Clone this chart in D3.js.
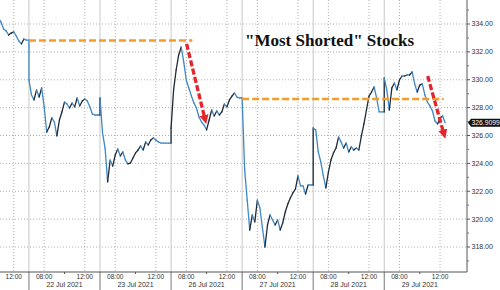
<!DOCTYPE html>
<html>
<head>
<meta charset="utf-8">
<script src="https://cdn.jsdelivr.net/npm/d3@7"></script>
<style>
  body { margin: 0; background: #fff; }
  svg { display: block; }
</style>
</head>
<body>
<div id="chart"></div>
<script>
// Dias de pregão no eixo x (o primeiro aparece cortado)
const dayLabels = ["21 Jul 2021", "22 Jul 2021", "23 Jul 2021", "26 Jul 2021", "27 Jul 2021", "28 Jul 2021", "29 Jul 2021"];
const sessionStart = 6.5;   // hora de abertura no eixo
const sessionHours = 7;     // duração de cada dia
const stepHours = 0.25;     // um ponto a cada 15 min
const timeTicks = [8, 12];
const minorTimeTicks = [10];
const yTicks = [318, 320, 322, 324, 326, 328, 330, 332, 334];
const yMinorTicks = [317, 319, 321, 323, 325, 327, 329, 331, 333, 335];

// Preços, dia a dia
const dayStarts = [10.5, 6.5, 6.5, 6.5, 6.5, 6.5, 6.5];
const jul21 = [334.43, 334.14, 333.64, 333.50, 333.21, 333.35, 333.43, 333.14, 332.78, 332.57, 332.92, 332.85, 332.85];
const jul22 = [329.98, 328.91, 328.55, 329.27, 328.76, 329.41, 328.05, 326.25, 326.61, 327.26, 326.97, 325.97, 327.11, 327.69, 328.40,
               328.26, 327.97, 328.33, 328.05, 328.69, 328.12, 328.48, 328.62, 328.48, 328.05, 327.54, 327.47, 327.47, 327.47];
const jul23 = [328.69, 326.18, 325.10, 322.67, 324.24, 323.81, 324.60, 325.03, 324.53, 324.82, 324.24, 323.96, 324.03, 324.39, 324.75,
               324.96, 325.25, 324.96, 325.54, 325.32, 325.68, 325.82, 325.68, 325.54, 325.46, 325.46, 325.46, 325.46, 325.46];
const jul26 = [326.54, 329.27, 330.70, 331.78, 332.35, 331.27, 329.98, 329.41, 328.83, 328.33, 327.97, 327.33, 326.97, 326.75, 326.40,
               327.11, 327.83, 327.40, 327.76, 327.47, 327.69, 328.26, 328.05, 328.55, 328.83, 329.05, 328.76, 328.69, 328.69];
const jul27 = [328.69, 323.53, 321.37, 319.22, 320.30, 319.80, 321.37, 320.80, 319.37, 318.00, 319.58, 320.30, 319.94, 319.58, 319.94,
               319.22, 319.73, 320.51, 321.09, 321.52, 321.88, 322.16, 323.10, 322.38, 322.38, 321.80, 322.45, 322.45, 322.45];
const jul28 = [326.54, 326.40, 324.82, 324.10, 323.10, 322.24, 323.38, 324.24, 324.75, 325.10, 325.89, 325.54, 325.10, 325.46, 324.82,
               325.18, 324.96, 325.10, 324.96, 325.97, 326.83, 327.83, 328.83, 329.12, 329.48, 328.69, 327.69, 327.69, 327.69];
const jul29 = [330.13, 329.27, 327.83, 329.41, 329.77, 329.27, 329.98, 330.27, 330.27, 330.34, 330.34, 330.56, 329.70, 329.12, 329.62,
               329.70, 328.91, 328.40, 328.12, 327.76, 327.04, 326.83, 327.26, 327.40, 326.9099];
const lastPrice = 326.9099;

// Anotações: níveis tracejados laranja [dia, hora] e setas vermelhas [dia, hora, preço]
const levelValues = [332.82, 328.62];
const levelFrom = [[1, 6.5], [4, 6.5]];
const levelTo = [[3, 8.6], [6, 12.35]];
const arrowFrom = [[3, 8.03, 332.57], [6, 10.78, 330.27]];
const arrowTo = [[3, 9.95, 326.85], [6, 12.5, 325.8]];
const title = "\"Most Shorted\" Stocks";

const width = 500, height = 290;
const plotRight = 467, axisY = 272;

const x = d3.scaleLinear().domain([0, dayLabels.length]).range([-42.1, 455.3]);
const y = d3.scaleLinear().domain([334, 318]).range([24, 247]);
const xt = (day, hour) => x(day + (hour - sessionStart) / sessionHours);

const svg = d3.select("#chart").append("svg")
    .attr("width", width)
    .attr("height", height)
    .style("font-family", "'Liberation Sans', Arial, sans-serif");

const defs = svg.append("defs");
defs.append("clipPath").attr("id", "plot")
    .append("rect").attr("width", plotRight).attr("height", axisY);
defs.append("marker")
    .attr("id", "head")
    .attr("viewBox", "0 0 10 10")
    .attr("refX", 3).attr("refY", 5)
    .attr("markerWidth", 2.8).attr("markerHeight", 2.8)
    .attr("orient", "auto")
    .append("path").attr("d", "M0,0L10,5L0,10z").attr("fill", "#e3262e");

// Grade horizontal
svg.selectAll(".hgrid").data(yTicks).enter().append("line")
    .attr("x1", 0).attr("x2", plotRight)
    .attr("y1", d => y(d)).attr("y2", d => y(d))
    .attr("stroke", "#b0b0b0").attr("stroke-dasharray", "1,2");

// Grade vertical (08:00 e 12:00) e separadores de dia
const gridTimes = [];
dayLabels.forEach((d, i) => timeTicks.forEach(h => gridTimes.push({ x: xt(i, h), h })));
svg.selectAll(".vgrid").data(gridTimes.filter(d => d.x > 0 && d.x < plotRight)).enter().append("line")
    .attr("x1", d => d.x).attr("x2", d => d.x)
    .attr("y1", 0).attr("y2", axisY)
    .attr("stroke", "#b0b0b0").attr("stroke-dasharray", "1,2");

const seps = d3.range(1, dayLabels.length);
svg.selectAll(".sep").data(seps).enter().append("line")
    .attr("x1", d => x(d)).attr("x2", d => x(d))
    .attr("y1", 0).attr("y2", axisY)
    .attr("stroke", "#c8c8c8");
svg.selectAll(".sep2").data(seps).enter().append("line")
    .attr("x1", d => x(d)).attr("x2", d => x(d))
    .attr("y1", axisY).attr("y2", height)
    .attr("stroke", "#777");

// Série de preços: segmentos escuros na alta, azuis na baixa
const series = [jul21, jul22, jul23, jul26, jul27, jul28, jul29];
const points = [];
series.forEach((vals, i) => vals.forEach((v, k) => {
    points.push({ t: i + (dayStarts[i] + k * stepHours - sessionStart) / sessionHours, v });
}));

const plot = svg.append("g").attr("clip-path", "url(#plot)");
plot.selectAll(".seg").data(d3.pairs(points)).enter().append("line")
    .attr("x1", d => x(d[0].t)).attr("y1", d => y(d[0].v))
    .attr("x2", d => x(d[1].t)).attr("y2", d => y(d[1].v))
    .attr("stroke", d => d[1].v > d[0].v ? "#1f2a36" : "#3f88c4")
    .attr("stroke-width", 1.3)
    .attr("stroke-linecap", "round");

// Níveis laranja
plot.selectAll(".level").data(levelValues).enter().append("line")
    .attr("x1", (d, i) => xt(levelFrom[i][0], levelFrom[i][1]))
    .attr("x2", (d, i) => xt(levelTo[i][0], levelTo[i][1]))
    .attr("y1", d => y(d)).attr("y2", d => y(d))
    .attr("stroke", "#f39c2c").attr("stroke-width", 2.6)
    .attr("stroke-dasharray", "7,3");

// Setas vermelhas
arrowFrom.forEach((a, i) => {
    const b = arrowTo[i];
    const x1 = xt(a[0], a[1]), y1 = y(a[2]);
    let x2 = xt(b[0], b[1]), y2 = y(b[2]);
    const len = Math.hypot(x2 - x1, y2 - y1);
    x2 -= (x2 - x1) / len * 6;
    y2 -= (y2 - y1) / len * 6;
    plot.append("line")
        .attr("x1", x1).attr("y1", y1).attr("x2", x2).attr("y2", y2)
        .attr("stroke", "#e3262e").attr("stroke-width", 3.3)
        .attr("stroke-dasharray", "6,2.5")
        .attr("marker-end", "url(#head)");
});

// Eixo x
svg.append("line")
    .attr("x1", 0).attr("x2", plotRight)
    .attr("y1", axisY).attr("y2", axisY)
    .attr("stroke", "#555");

const minorX = [];
dayLabels.forEach((d, i) => minorTimeTicks.forEach(h => minorX.push(xt(i, h))));
svg.selectAll(".xminor").data(minorX.filter(d => d > 0)).enter().append("line")
    .attr("x1", d => d).attr("x2", d => d)
    .attr("y1", axisY).attr("y2", axisY + 2)
    .attr("stroke", "#555");

svg.selectAll(".tlabel").data(gridTimes.filter(d => d.x > 5 && d.x < plotRight)).enter().append("text")
    .attr("x", d => d.x).attr("y", 278.5)
    .attr("text-anchor", "middle")
    .style("font-size", "6.6px").attr("fill", "#333")
    .text(d => d3.format("02")(d.h) + ":00");

svg.selectAll(".dlabel").data(dayLabels.map((d, i) => ({ d, c: x(i + 0.5) })).filter(d => d.c > 10)).enter().append("text")
    .attr("x", d => d.c).attr("y", 287)
    .attr("text-anchor", "middle")
    .style("font-size", "7px").attr("fill", "#333")
    .text(d => d.d);

// Eixo y à direita
svg.append("line")
    .attr("x1", plotRight).attr("x2", plotRight)
    .attr("y1", 0).attr("y2", axisY)
    .attr("stroke", "#555");
svg.selectAll(".ytick").data(yTicks).enter().append("line")
    .attr("x1", plotRight).attr("x2", plotRight + 3)
    .attr("y1", d => y(d)).attr("y2", d => y(d))
    .attr("stroke", "#555");
svg.selectAll(".yminor").data(yMinorTicks).enter().append("line")
    .attr("x1", plotRight).attr("x2", plotRight + 2)
    .attr("y1", d => y(d)).attr("y2", d => y(d))
    .attr("stroke", "#777");
svg.selectAll(".ylabel").data(yTicks).enter().append("text")
    .attr("x", plotRight + 4.5).attr("y", d => y(d))
    .attr("dy", "0.35em")
    .style("font-size", "7px").attr("fill", "#333")
    .text(d => d.toFixed(2));

// Etiqueta do último preço
const ly = y(lastPrice);
svg.append("path")
    .attr("d", `M${plotRight + 1},${ly} L${plotRight + 4},${ly - 4} L${width},${ly - 4} L${width},${ly + 4} L${plotRight + 4},${ly + 4} Z`)
    .attr("fill", "#111");
svg.append("text")
    .attr("x", plotRight + 4.5).attr("y", ly)
    .attr("dy", "0.35em")
    .style("font-size", "6.8px").attr("fill", "#fff")
    .text(lastPrice.toFixed(4));

// Título
svg.append("text")
    .attr("x", 245).attr("y", 46)
    .style("font-family", "'Liberation Serif', 'Times New Roman', serif")
    .style("font-weight", "bold")
    .style("font-size", "17px")
    .attr("fill", "#111")
    .text(title);
</script>
</body>
</html>
